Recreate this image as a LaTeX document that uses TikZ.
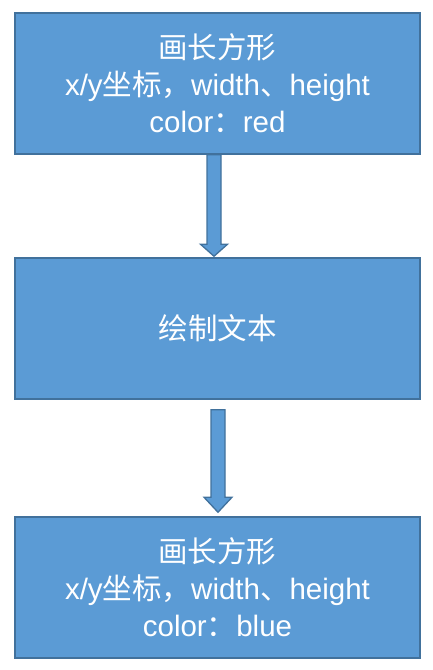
\documentclass[tikz,border=0pt]{standalone}
\usepackage{fontspec}
\setmainfont{Liberation Sans}
\newfontfamily\cjk{Noto Sans CJK SC}
\usetikzlibrary{calc}
\definecolor{boxfill}{HTML}{5B9BD5}
\definecolor{boxline}{HTML}{41719C}
\tikzset{
  box/.style={draw=boxline, fill=boxfill, line width=1.5pt, minimum width=405pt, minimum height=141pt, inner sep=0pt,
    text=white, align=center, font=\fontsize{29.5}{37}\selectfont},
  blockarrow/.style={draw=boxline, fill=boxfill, line width=1.3pt, line join=miter},
}
\begin{document}
\begin{tikzpicture}[x=1pt,y=-1pt]
\useasboundingbox (0,0) rectangle (432,670);
\node[box] (b1) at (217.5,83.5) {{\cjk 画长方形}\\x/y{\cjk 坐标，}width{\cjk 、}height\\color{\cjk ：}red};
\node[box] (b2) at (217.5,328.5) {{\cjk 绘制文本}};
\node[box] (b3) at (217.5,587.5) {{\cjk 画长方形}\\x/y{\cjk 坐标，}width{\cjk 、}height\\color{\cjk ：}blue};
% arrow 1
\coordinate (a1s) at ($(b1.south)+(-3.5,0)$);
\coordinate (a1t) at ($(b2.north)+(-3.5,-1)$);
\draw[blockarrow] ($(a1s)+(-7,0)$) -- ($(a1s)+(7,0)$) -- ($(a1t)+(7,-12)$) -- ($(a1t)+(13.5,-12)$) -- (a1t) -- ($(a1t)+(-13.5,-12)$) -- ($(a1t)+(-7,-12)$) -- cycle;
% arrow 2
\coordinate (a2s) at ($(b2.south)+(0.5,10)$);
\coordinate (a2t) at ($(b3.north)+(0.5,-4)$);
\draw[blockarrow] ($(a2s)+(-7,0)$) -- ($(a2s)+(7,0)$) -- ($(a2t)+(7,-15)$) -- ($(a2t)+(14,-15)$) -- (a2t) -- ($(a2t)+(-14,-15)$) -- ($(a2t)+(-7,-15)$) -- cycle;
\end{tikzpicture}
\end{document}
